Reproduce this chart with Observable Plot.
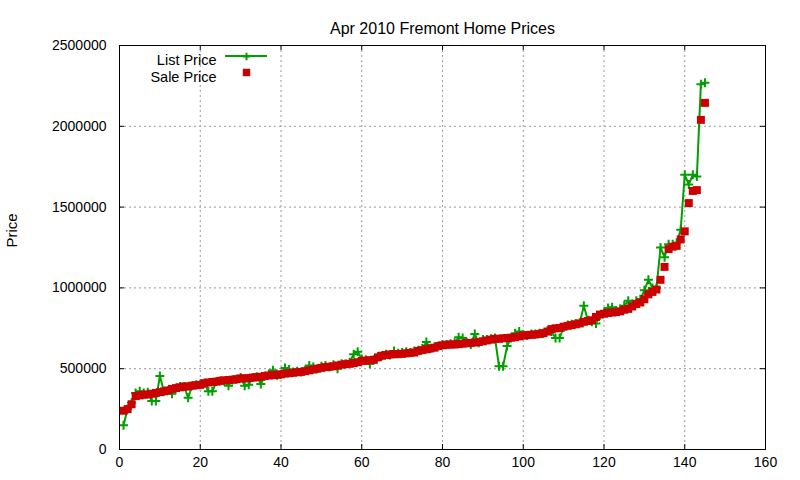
<!DOCTYPE html>
<html><head><meta charset="utf-8">
<script src="https://cdn.jsdelivr.net/npm/d3@7"></script>
<script src="https://cdn.jsdelivr.net/npm/@observablehq/plot@0.6"></script>
<style>body{margin:0;background:#fff;} #chart svg{font-family:"Liberation Sans",Arial,sans-serif;}</style>
</head><body><div id="chart"></div>
<script>
const title = "Apr 2010 Fremont Home Prices";
const yLabel = "Price";
const seriesNames = ["List Price", "Sale Price"];
const xTicks = [0, 20, 40, 60, 80, 100, 120, 140, 160];
const yTicks = [0, 500000, 1000000, 1500000, 2000000, 2500000];

const listPrice = [
150000,250000,290000,350000,360000,350000,355000,300000,300000,455000,
360000,365000,345000,380000,390000,390000,320000,395000,400000,405000,
410000,360000,360000,420000,425000,420000,395000,430000,435000,445000,
395000,400000,445000,450000,405000,455000,465000,490000,460000,465000,
505000,495000,480000,485000,480000,490000,520000,510000,500000,515000,
520000,510000,525000,500000,530000,530000,540000,590000,605000,560000,
555000,530000,555000,575000,580000,590000,585000,610000,595000,600000,
605000,600000,610000,615000,625000,665000,625000,635000,640000,650000,
650000,655000,660000,695000,690000,660000,650000,715000,660000,680000,
680000,685000,690000,515000,515000,640000,690000,720000,730000,710000,
705000,715000,715000,720000,720000,735000,730000,690000,690000,755000,
770000,775000,780000,785000,890000,800000,790000,780000,830000,845000,
875000,880000,860000,870000,890000,920000,900000,920000,930000,985000,
1050000,1000000,1000000,1250000,1190000,1270000,1270000,1280000,1360000,1700000,
1640000,1700000,1690000,2260000,2270000];

const salePrice = [
240000,250000,280000,330000,335000,340000,340000,345000,350000,355000,
360000,365000,375000,380000,385000,390000,390000,395000,398000,400000,
410000,415000,418000,420000,425000,428000,430000,432000,435000,440000,
440000,442000,445000,448000,450000,455000,458000,460000,462000,465000,
470000,472000,475000,478000,480000,485000,490000,495000,500000,505000,
510000,512000,515000,520000,525000,528000,530000,535000,540000,548000,
550000,552000,555000,570000,580000,585000,588000,590000,590000,592000,
595000,598000,600000,610000,615000,620000,625000,630000,640000,645000,
648000,650000,650000,652000,655000,658000,660000,662000,665000,670000,
675000,680000,685000,685000,688000,690000,692000,695000,700000,705000,
708000,710000,712000,715000,720000,730000,745000,750000,752000,760000,
765000,770000,775000,780000,790000,795000,800000,820000,835000,840000,
845000,848000,850000,855000,865000,870000,885000,900000,910000,930000,
960000,975000,990000,1050000,1130000,1240000,1255000,1260000,1300000,1350000,
1525000,1600000,1605000,2040000,2145000];

const data = salePrice.map((s, i) => ({n: i + 1, sale: s, list: listPrice[i]}));

const W = 800, H = 480, mL = 119, mR = 35, mT = 45, mB = 31;
const innerW = W - mL - mR, innerH = H - mT - mB;
const green = "#00a000", red = "#cc0000";
const font = "'Liberation Sans', Arial, sans-serif";
const tickLen = 5;

const chart = Plot.plot({
  width: W, height: H,
  marginLeft: mL, marginRight: mR, marginTop: mT, marginBottom: mB,
  style: {fontFamily: font, fontSize: "14px", background: "#fff", color: "#000", overflow: "visible"},
  x: {domain: [0, 160]},
  y: {domain: [0, 2500000]},
  marks: [
    Plot.gridX(xTicks.slice(1, -1), {stroke: "#999", strokeOpacity: 1, strokeDasharray: "2,3", strokeWidth: 1}),
    Plot.gridY(yTicks.slice(1, -1), {stroke: "#999", strokeOpacity: 1, strokeDasharray: "2,3", strokeWidth: 1}),
    Plot.tickX(xTicks, {x: d => d, insetTop: innerH - tickLen, stroke: "#000"}),
    Plot.tickX(xTicks, {x: d => d, insetBottom: innerH - tickLen, stroke: "#000"}),
    Plot.tickY(yTicks, {y: d => d, insetRight: innerW - tickLen, stroke: "#000"}),
    Plot.tickY(yTicks, {y: d => d, insetLeft: innerW - tickLen, stroke: "#000"}),
    Plot.axisX(xTicks, {tickSize: 0, tickPadding: 8, tickFormat: d => String(d), label: null, fontSize: 14}),
    Plot.axisY(yTicks, {tickSize: 0, tickPadding: 13, tickFormat: d => String(d), label: null, fontSize: 14}),
    Plot.line(data, {x: "n", y: "list", stroke: green, strokeWidth: 2}),
    Plot.dot(data, {x: "n", y: "list", symbol: "plus", r: 3, stroke: green, strokeWidth: 2}),
    Plot.dot(data, {x: "n", y: "sale", symbol: "square", r: 4.5, fill: red, stroke: null}),
    Plot.frame({stroke: "#000", strokeWidth: 1}),
    Plot.text([title], {text: d => d, frameAnchor: "top", dy: -23, fontSize: 16}),
    Plot.text([yLabel], {text: d => d, frameAnchor: "left", dx: -107, rotate: -90, fontSize: 15}),
    Plot.text([seriesNames[0]], {text: d => d, frameAnchor: "top-left", dx: 97, dy: 9, textAnchor: "end", fontSize: 14.5}),
    Plot.text([seriesNames[1]], {text: d => d, frameAnchor: "top-left", dx: 97, dy: 26, textAnchor: "end", fontSize: 14.5}),
    Plot.dot([0], {frameAnchor: "top-left", dx: 127, dy: 11, symbol: "plus", r: 2.5, stroke: green, strokeWidth: 2}),
    Plot.dot([0], {frameAnchor: "top-left", dx: 127, dy: 27, symbol: "square", r: 4.2, fill: red, stroke: null})
  ]
});

// legend sample line
d3.select(chart).append("line")
  .attr("x1", mL + 106).attr("x2", mL + 148)
  .attr("y1", mT + 11).attr("y2", mT + 11)
  .attr("stroke", green).attr("stroke-width", 2);

document.getElementById("chart").appendChild(chart);
</script>
</body></html>
